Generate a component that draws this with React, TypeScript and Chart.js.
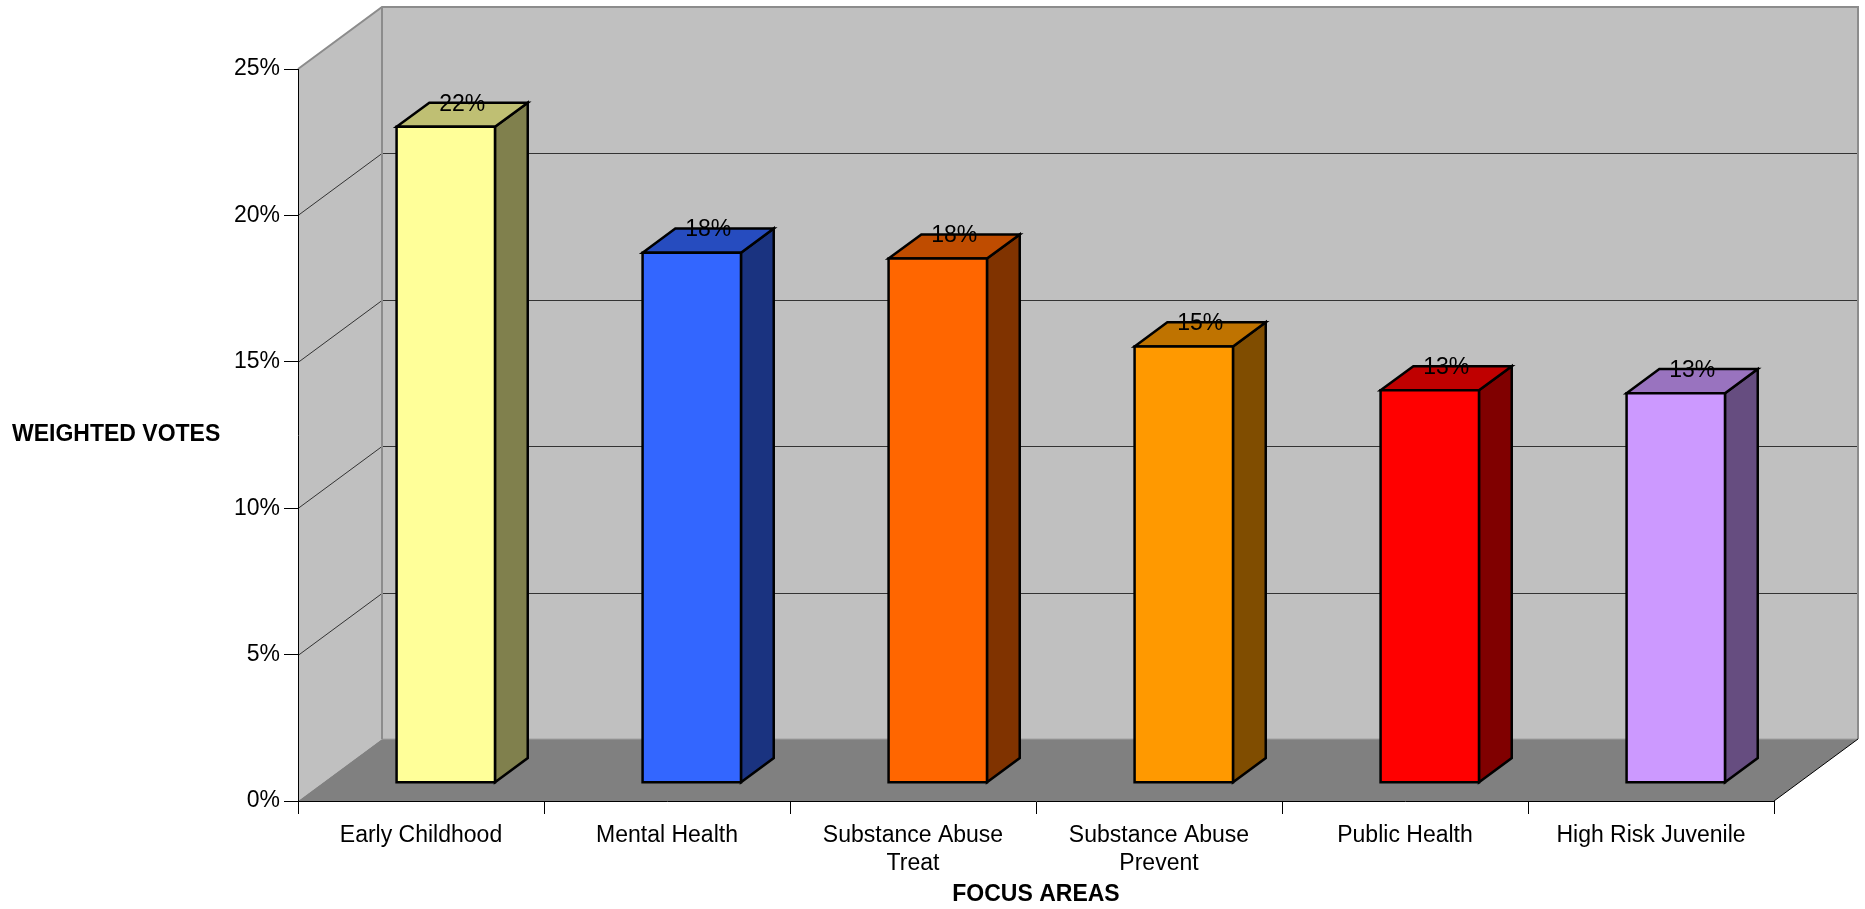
import React, { useEffect, useRef } from "react";
import { Chart, registerables } from "chart.js";

Chart.register(...registerables);

const categories: (string | string[])[] = [
  "Early Childhood",
  "Mental Health",
  ["Substance Abuse", "Treat"],
  ["Substance Abuse", "Prevent"],
  "Public Health",
  "High Risk Juvenile",
];
const values = [0.224, 0.181, 0.179, 0.149, 0.134, 0.133];
const frontColors = ["#FFFF99", "#3366FF", "#FF6600", "#FF9900", "#FF0000", "#CC99FF"];
const topColors = ["#BFBF73", "#264CBF", "#BF4C00", "#BF7300", "#BF0000", "#9973BF"];
const sideColors = ["#80804D", "#1A3380", "#803300", "#804D00", "#800000", "#664D80"];
const yTickValues = [0, 0.05, 0.1, 0.15, 0.2, 0.25];
const yTitle = "WEIGHTED VOTES";
const xTitle = "FOCUS AREAS";

const FONT = "'Liberation Sans', Arial, Helvetica, sans-serif";
const FS = 23;
const DX = 84;
const DY = 62;
const F0 = 0.295;
const F1 = 0.685;

const pct = (v: number) => `${Math.round(v * 100)}%`;

const threeD = {
  id: "threeD",
  beforeDraw(chart: any) {
    const { ctx, chartArea: a, scales } = chart;
    const y = scales.y;
    const L = a.left, R = a.right;
    const T = y.getPixelForValue(yTickValues[yTickValues.length - 1]);
    const B = y.getPixelForValue(0);
    ctx.save();
    ctx.fillStyle = "#C0C0C0";
    ctx.fillRect(L + DX, T - DY, R - L, B - T);
    ctx.beginPath();
    ctx.moveTo(L, T);
    ctx.lineTo(L + DX, T - DY);
    ctx.lineTo(L + DX, B - DY);
    ctx.lineTo(L, B);
    ctx.closePath();
    ctx.fill();
    ctx.fillStyle = "#808080";
    ctx.beginPath();
    ctx.moveTo(L, B);
    ctx.lineTo(L + DX, B - DY);
    ctx.lineTo(R + DX, B - DY);
    ctx.lineTo(R, B);
    ctx.closePath();
    ctx.fill();
    ctx.strokeStyle = "#333333";
    ctx.lineWidth = 1;
    yTickValues.forEach((v) => {
      if (v === 0 || v === yTickValues[yTickValues.length - 1]) return;
      const py = Math.round(y.getPixelForValue(v)) + 0.5;
      ctx.beginPath();
      ctx.moveTo(L, py);
      ctx.lineTo(L + DX, py - DY);
      ctx.lineTo(R + DX, py - DY);
      ctx.stroke();
    });
    ctx.strokeStyle = "#A0A0A0";
    ctx.beginPath();
    ctx.moveTo(L + DX, B - DY);
    ctx.lineTo(R + DX, B - DY);
    ctx.stroke();
    ctx.strokeStyle = "#8C8C8C";
    ctx.lineWidth = 2;
    ctx.beginPath();
    ctx.moveTo(L, T);
    ctx.lineTo(L + DX, T - DY);
    ctx.lineTo(R + DX, T - DY);
    ctx.lineTo(R + DX, B - DY);
    ctx.moveTo(L + DX, T - DY);
    ctx.lineTo(L + DX, B - DY);
    ctx.stroke();
    ctx.strokeStyle = "#000000";
    ctx.lineWidth = 1;
    ctx.beginPath();
    ctx.moveTo(R, B);
    ctx.lineTo(R + DX, B - DY);
    ctx.stroke();
    ctx.restore();
  },
  afterDatasetsDraw(chart: any) {
    const { ctx } = chart;
    const meta = chart.getDatasetMeta(0);
    const fx = DX * F0, fy = DY * F0;
    const bx = DX * (F1 - F0), by = DY * (F1 - F0);
    ctx.save();
    ctx.lineWidth = 2.5;
    ctx.lineJoin = "miter";
    ctx.strokeStyle = "#000000";
    meta.data.forEach((el: any, i: number) => {
      const p = el.getProps(["x", "y", "base", "width"], true);
      const xl = p.x - p.width / 2 + fx;
      const xr = p.x + p.width / 2 + fx;
      const yt = p.y - fy;
      const yb = p.base - fy;
      ctx.fillStyle = sideColors[i];
      ctx.beginPath();
      ctx.moveTo(xr, yt);
      ctx.lineTo(xr + bx, yt - by);
      ctx.lineTo(xr + bx, yb - by);
      ctx.lineTo(xr, yb);
      ctx.closePath();
      ctx.fill();
      ctx.stroke();
      ctx.fillStyle = topColors[i];
      ctx.beginPath();
      ctx.moveTo(xl, yt);
      ctx.lineTo(xl + bx, yt - by);
      ctx.lineTo(xr + bx, yt - by);
      ctx.lineTo(xr, yt);
      ctx.closePath();
      ctx.fill();
      ctx.stroke();
      ctx.fillStyle = frontColors[i];
      ctx.beginPath();
      ctx.rect(xl, yt, xr - xl, yb - yt);
      ctx.fill();
      ctx.stroke();
      ctx.fillStyle = "#000000";
      ctx.font = `${FS}px ${FONT}`;
      ctx.textAlign = "center";
      ctx.textBaseline = "middle";
      ctx.fillText(pct(values[i]), (xl + xr) / 2 + bx / 2, yt - by / 2 - 10.5);
    });
    ctx.restore();
  },
  afterDraw(chart: any) {
    const { ctx } = chart;
    ctx.save();
    ctx.fillStyle = "#000000";
    ctx.font = `bold ${FS}px ${FONT}`;
    ctx.textAlign = "left";
    ctx.textBaseline = "middle";
    ctx.fillText(yTitle, 12, 435);
    ctx.restore();
  },
};

export default function App() {
  const ref = useRef<HTMLCanvasElement | null>(null);
  useEffect(() => {
    if (!ref.current) return;
    const chart = new Chart(ref.current, {
      type: "bar",
      data: {
        labels: categories as any,
        datasets: [
          {
            data: values,
            backgroundColor: "rgba(0,0,0,0)",
            borderWidth: 0,
            categoryPercentage: 0.4,
            barPercentage: 1,
          },
        ],
      },
      options: {
        animation: false,
        responsive: true,
        maintainAspectRatio: false,
        devicePixelRatio: 1,
        layout: { padding: { top: 69, right: 91, left: 0, bottom: 0 } },
        plugins: { legend: { display: false }, tooltip: { enabled: false }, title: { display: false } },
        scales: {
          x: {
            offset: true,
            grid: { offset: true, drawOnChartArea: false, drawTicks: true, tickLength: 13, color: "#000000", lineWidth: 1 },
            border: { display: true, color: "#000000", width: 1 },
            ticks: {
              color: "#000000",
              font: { family: FONT, size: FS, lineHeight: 1.24 },
              maxRotation: 0,
              autoSkip: false,
              padding: 7,
            },
            title: {
              display: true,
              text: xTitle,
              color: "#000000",
              font: { family: FONT, size: FS, weight: "bold", lineHeight: 1.2 },
              padding: { top: 0, bottom: 0.5 },
            },
            afterFit: (s: any) => {
              s.height = 108;
            },
          },
          y: {
            min: 0,
            max: 0.25,
            afterBuildTicks: (s: any) => {
              s.ticks = yTickValues.map((v) => ({ value: v }));
            },
            grid: { drawOnChartArea: false, drawTicks: true, tickLength: 14, color: "#000000", lineWidth: 1 },
            border: { display: true, color: "#000000", width: 1 },
            ticks: {
              color: "#000000",
              font: { family: FONT, size: FS, lineHeight: 1.2 },
              padding: 4,
              callback: (v: any) => pct(Number(v)),
            },
            afterFit: (s: any) => {
              s.width = 298;
            },
          },
        },
      },
      plugins: [threeD],
    });
    return () => chart.destroy();
  }, []);
  return (
    <div style={{ position: "fixed", left: 0, top: 0, width: 1865, height: 909, background: "#ffffff" }}>
      <canvas ref={ref} />
    </div>
  );
}
